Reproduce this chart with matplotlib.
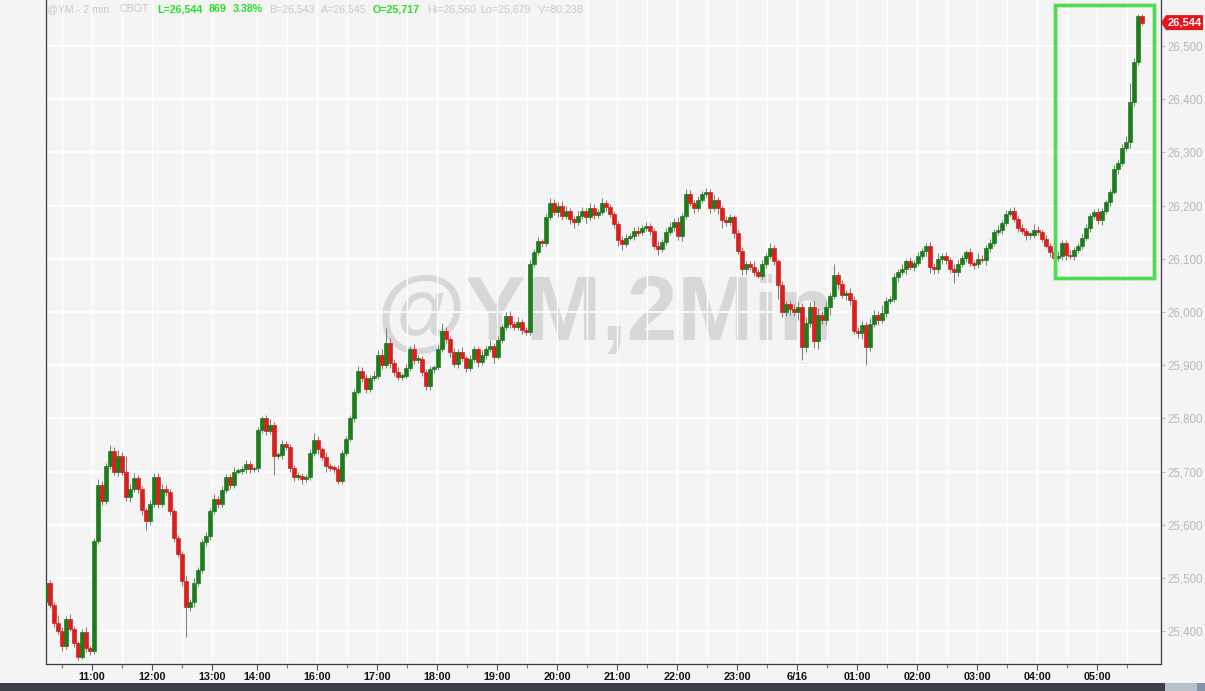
import matplotlib
matplotlib.use("Agg")
import matplotlib.pyplot as plt
from matplotlib.patches import Rectangle, Polygon
from matplotlib.ticker import FuncFormatter, FixedLocator
import numpy as np

plt.rcParams['font.family'] = ['Liberation Sans', 'DejaVu Sans']

# ---------------- data (4-minute candles) ----------------
first_open = 25455
closes = [
    # 10:14 - 12:00
    25490, 25450, 25415, 25400, 25372, 25422, 25405, 25378, 25352, 25398,
    25368, 25362, 25570, 25675, 25645, 25710, 25738, 25700, 25730, 25700,
    25652, 25668, 25688, 25668, 25628, 25608,
    25640, 25690, 25640, 25668, 25662, 25625, 25575, 25545, 25495, 25445,
    25455, 25490, 25515, 25568, 25578, 25625, 25648, 25640, 25665, 25690,
    # 13:xx - 17:xx
    25675, 25700, 25702, 25705, 25714, 25704, 25706, 25778, 25800, 25776,
    25788, 25730, 25732, 25752, 25746, 25706, 25690, 25692, 25686, 25690,
    25735, 25760, 25742, 25728, 25710, 25708, 25705, 25682, 25735, 25762,
    25800, 25850, 25890, 25876, 25856, 25875, 25880, 25920, 25900, 25942,
    25905, 25888, 25878, 25880, 25895, 25930, 25910, 25912, 25888, 25860,
    # 18:xx - 21:xx
    25893, 25896, 25930, 25965, 25950, 25925, 25902, 25925, 25913, 25895,
    25912, 25930, 25906, 25920, 25930, 25937, 25916, 25947, 25972, 25992,
    25978, 25972, 25982, 25966, 25962, 26090, 26112, 26133, 26130, 26178,
    26205, 26188, 26200, 26180, 26190, 26175, 26170, 26180, 26190, 26178,
    26195, 26182, 26188, 26205, 26198, 26184, 26166, 26135, 26128, 26140,
    # 21:xx - 00:xx
    26142, 26152, 26150, 26158, 26162, 26152, 26125, 26118, 26132, 26150,
    26160, 26170, 26142, 26180, 26222, 26205, 26195, 26210, 26222, 26225,
    26195, 26210, 26195, 26172, 26170, 26178, 26148, 26115, 26080, 26090,
    26085, 26075, 26068, 26090, 26105, 26120, 26095, 26050, 26000, 26015,
    26005, 26000, 26010, 25935, 25980, 26010, 25945, 25995, 25985, 26010,
    # 00:xx - 04:xx
    26030, 26070, 26052, 26032, 26035, 26022, 25965, 25960, 25975, 25935,
    25978, 25995, 25985, 25998, 26020, 26025, 26065, 26075, 26080, 26095,
    26085, 26092, 26105, 26115, 26125, 26085, 26080, 26100, 26105, 26098,
    26080, 26075, 26090, 26102, 26112, 26092, 26090, 26100, 26098, 26120,
    26130, 26150, 26155, 26168, 26185, 26190, 26175, 26158, 26152, 26145,
    # 04:xx - 05:44
    26145, 26155, 26150, 26138, 26125, 26112, 26102, 26106, 26130, 26108,
    26105, 26116, 26125, 26140, 26158, 26180, 26188, 26172, 26190, 26206,
    26226, 26268, 26280, 26308, 26320, 26395, 26470, 26556, 26544,
]
wick_up = [
    22, 6, 4, 15, 8, 6, 10, 5, 4, 6, 10, 5, 6, 12, 8, 6, 12, 8, 10, 6,
    30, 8, 10, 6, 5, 4, 6, 7, 7, 8, 6, 5, 4, 6, 5, 8, 6, 10, 6, 5,
    8, 6, 10, 6, 8, 5,
    6, 8, 5, 6, 8, 6, 5, 5, 5, 6, 10, 6, 5, 8, 6, 5, 6, 8, 6, 5,
    8, 13, 6, 5, 8, 6, 5, 8, 6, 5, 6, 5, 8, 6, 8, 6, 10, 8, 10, 28,
    10, 6, 8, 6, 8, 6, 10, 8, 6, 5,
    6, 5, 8, 14, 6, 5, 8, 6, 10, 5, 8, 6, 5, 8, 6, 10, 5, 8, 6, 8,
    10, 6, 8, 5, 6, 8, 6, 8, 5, 6, 10, 8, 6, 8, 10, 6, 5, 10, 8, 6,
    10, 8, 6, 10, 6, 5, 6, 5, 8, 6,
    6, 8, 10, 6, 8, 5, 6, 8, 6, 8, 10, 6, 8, 6, 10, 8, 6, 8, 6, 8,
    6, 10, 6, 5, 8, 6, 5, 6, 8, 6, 5, 10, 6, 8, 6, 10, 6, 5, 8, 6,
    6, 10, 8, 6, 10, 8, 10, 12, 6, 8,
    5, 20, 6, 8, 6, 10, 8, 6, 8, 6, 10, 8, 6, 15, 8, 6, 8, 6, 10, 5,
    8, 6, 8, 6, 5, 6, 8, 10, 6, 8, 6, 10, 8, 6, 5, 8, 6, 10, 8, 6,
    8, 6, 8, 5, 6, 6, 8, 6, 8, 5,
    6, 10, 6, 5, 6, 5, 6, 8, 5, 6, 8, 6, 5, 6, 8, 6, 5, 8, 6, 5,
    6, 8, 6, 8, 10, 35, 8, 4, 4,
]
wick_dn = [
    5, 6, 8, 6, 10, 6, 5, 8, 6, 5, 8, 6, 4, 6, 8, 5, 6, 6, 8, 6,
    8, 10, 6, 8, 10, 18, 8, 6, 8, 6, 8, 6, 8, 6, 10, 56, 8, 10, 6, 6,
    8, 6, 5, 8, 6, 5,
    8, 6, 5, 6, 8, 6, 5, 6, 6, 8, 6, 36, 6, 8, 5, 6, 8, 6, 10, 5,
    6, 5, 8, 6, 10, 6, 8, 6, 5, 6, 5, 6, 5, 8, 8, 6, 5, 6, 8, 6,
    10, 8, 6, 6, 5, 6, 8, 6, 8, 6,
    6, 8, 5, 6, 8, 10, 6, 8, 6, 8, 5, 6, 10, 6, 8, 6, 12, 5, 6, 6,
    8, 6, 5, 8, 6, 5, 6, 5, 8, 6, 5, 6, 10, 8, 6, 10, 12, 6, 5, 10,
    6, 8, 5, 6, 8, 6, 8, 10, 12, 6,
    5, 6, 8, 5, 6, 8, 6, 10, 5, 6, 5, 8, 6, 8, 5, 6, 8, 6, 5, 6,
    8, 6, 10, 15, 8, 6, 8, 6, 10, 8, 6, 8, 5, 6, 8, 5, 6, 25, 10, 8,
    10, 8, 15, 25, 10, 8, 12, 15, 8, 10,
    15, 6, 8, 6, 10, 8, 6, 8, 10, 35, 8, 6, 10, 6, 8, 5, 6, 8, 6, 8,
    6, 8, 5, 6, 10, 12, 8, 6, 10, 8, 6, 20, 8, 6, 8, 6, 10, 8, 6, 10,
    8, 6, 5, 8, 6, 5, 6, 8, 6, 10,
    8, 6, 5, 6, 5, 8, 12, 6, 8, 10, 6, 8, 5, 6, 5, 8, 6, 6, 8, 5,
    6, 5, 8, 6, 5, 12, 8, 6, 5,
]

# time axis (positions in candle units)
hour_labels = ["11:00", "12:00", "13:00", "14:00", "16:00", "17:00", "18:00",
               "19:00", "20:00", "21:00", "22:00", "23:00", "6/16", "01:00",
               "02:00", "03:00", "04:00", "05:00"]
hour_pos = [11.5, 26.5, 41.5, 52.75, 67.75, 82.75, 97.75, 112.75, 127.75,
            142.75, 157.75, 172.75, 187.75, 202.75, 217.75, 232.75, 247.75, 262.75]
half_pos = [4, 19, 34, 60.25, 75.25, 90.25, 105.25, 120.25, 135.25, 150.25,
            165.25, 180.25, 195.25, 210.25, 225.25, 240.25, 255.25, 270.25]
price_ticks = list(range(25400, 26501, 100))

header = [("@YM - 2 min", False), ("CBOT", False), ("L=26,544", True), ("869", True),
          ("3.38%", True), ("B=26,543", False), ("A=26,545", False), ("O=25,717", True),
          ("Hi=26,560", False), ("Lo=25,679", False), ("V=80,238", False)]
header_x = [47, 120, 157, 209, 233, 269, 321, 373, 427, 480, 538]

highlight_x = (252.2, 276.9)
highlight_y = (26064, 26577)

# ---------------- styling ----------------
BG = "#f4f4f4"
GREEN = "#1d7d1d"
RED = "#da1f1f"
WICK = "#7a7a7a"
W, H = 1205, 691

fig = plt.figure(figsize=(W / 100, H / 100), dpi=100, facecolor=BG)
ax = fig.add_axes([45.5 / W, 27 / H, 1115 / W, 664 / H])
ax.set_facecolor(BG)

opens = [first_open] + closes[:-1]
n = len(closes)
x = np.arange(n)
o = np.array(opens, float)
c = np.array(closes, float)
hi = np.maximum(o, c) + np.array(wick_up, float)
lo = np.minimum(o, c) - np.array(wick_dn, float)
up = c >= o
colors = np.where(up, GREEN, RED)

ax.vlines(x, lo, hi, color=WICK, linewidth=0.7, zorder=2)
body = np.where(np.abs(c - o) < 3, np.where(up, 3, -3), c - o)
ax.bar(x, body, bottom=o, width=0.8, color=colors, edgecolor=colors,
       linewidth=0.5, zorder=3)

ax.set_xlim(-0.125, 278.625)
ax.set_ylim(25338.3, 26586.5)

# grid
ax.xaxis.set_major_locator(FixedLocator(hour_pos))
ax.xaxis.set_minor_locator(FixedLocator(half_pos))
ax.set_xticklabels(hour_labels)
ax.yaxis.set_major_locator(FixedLocator(price_ticks))
ax.yaxis.set_major_formatter(FuncFormatter(lambda v, p: f"{int(v):,}"))
ax.yaxis.tick_right()
ax.grid(True, which="both", axis="x", color="white", linewidth=1.0, zorder=0.5)
ax.grid(True, which="major", axis="y", color="white", linewidth=1.2, zorder=0.5)
ax.set_axisbelow(True)

for s in ["left", "right", "bottom"]:
    ax.spines[s].set_color("#3c3c3c")
    ax.spines[s].set_linewidth(0.9)
ax.spines["top"].set_visible(False)

ax.tick_params(axis="x", which="major", length=4, width=0.8, color="#555555",
               labelsize=7.8, pad=2, labelcolor="#111111")
ax.tick_params(axis="x", which="minor", length=3, width=0.8, color="#777777")
for lab in ax.get_xticklabels():
    lab.set_fontweight("bold")
ax.tick_params(axis="y", which="major", length=3, width=0.8, color="#b8bcc4",
               labelsize=8.3, pad=2, labelcolor="#b4b8c0")

# watermark
ax.text((377 - 45.5) / 1115, (664 - 340) / 664, "@YM,2Min", transform=ax.transAxes,
        fontsize=65.5, fontweight="bold", color="#d7d7d7", ha="left", va="baseline",
        zorder=0.2)

# highlight box
shadow = Rectangle((highlight_x[0], highlight_y[0]), highlight_x[1] - highlight_x[0],
                   highlight_y[1] - highlight_y[0], fill=False, edgecolor="#b0b0b0",
                   linewidth=3.5, alpha=0.35, zorder=4, clip_on=False)
ax.add_patch(shadow)
box = Rectangle((highlight_x[0], highlight_y[0]), highlight_x[1] - highlight_x[0],
                highlight_y[1] - highlight_y[0], fill=False, edgecolor="#44e444",
                linewidth=2.3, zorder=5, clip_on=False)
ax.add_patch(box)

# last price tag
last = closes[-1]
_, ypix = ax.transData.transform((0, last))
tag = Polygon([(1161, ypix), (1166, ypix + 7.5), (1203, ypix + 7.5),
               (1203, ypix - 7.5), (1166, ypix - 7.5)], closed=True,
              transform=None, facecolor="#e6141c", edgecolor="none", zorder=6)
fig.patches.append(tag)
fig.text(1184.5 / W, ypix / H, f"{last:,}", ha="center", va="center",
         fontsize=8, fontweight="bold", color="white", zorder=7)

# header
for (txt, hl), hx in zip(header, header_x):
    fig.text(hx / W, 1 - 9 / H, txt, ha="left", va="center", fontsize=7.7,
             fontweight="bold" if hl else "normal",
             color="#2cdc2c" if hl else "#c6cad2", zorder=8)

# bottom scroll bar
fig.patches.append(Rectangle((0, 0), W, 8, transform=None, facecolor="#3b4049",
                             edgecolor="none", zorder=1))
fig.patches.append(Rectangle((1165, 0), 32, 8, transform=None, facecolor="#b9c0ca",
                             edgecolor="none", zorder=2))
fig.patches.append(Rectangle((1197, 0), 8, 8, transform=None, facecolor="#8593a6",
                             edgecolor="none", zorder=2))

fig.savefig("out.png", dpi=100, facecolor=BG)
